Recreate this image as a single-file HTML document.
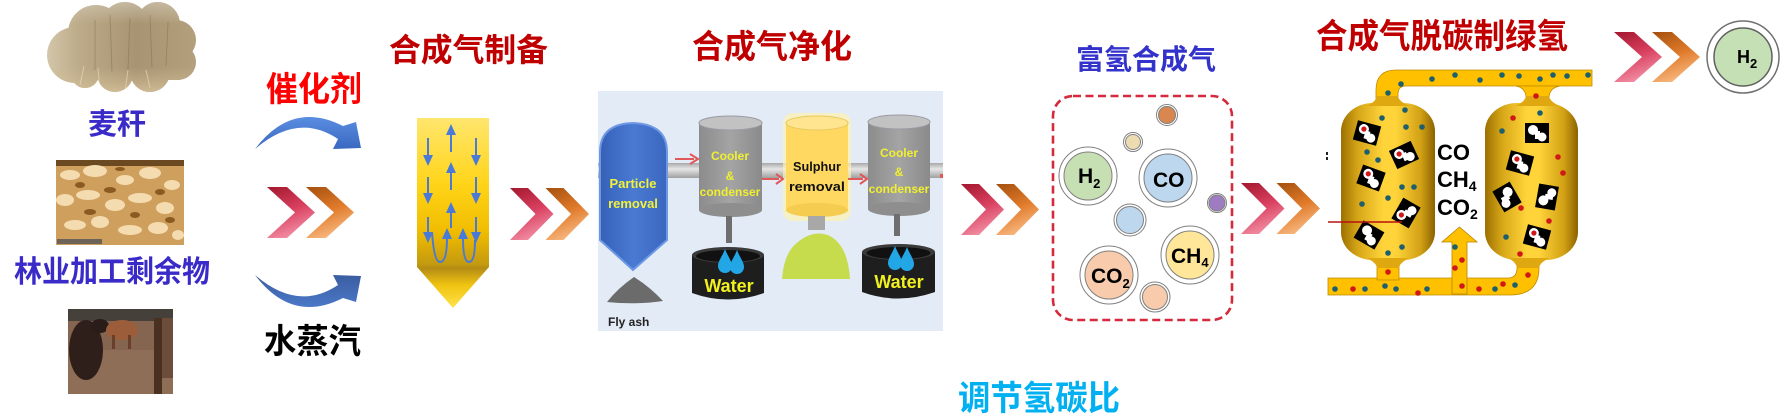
<!DOCTYPE html>
<html><head><meta charset="utf-8"><style>
html,body{margin:0;padding:0;background:#fff;}
svg{display:block;}
.cjk{font-family:"Liberation Sans","Noto Sans CJK SC","WenQuanYi Zen Hei",sans-serif;font-weight:bold;}
.lat{font-family:"Liberation Sans",sans-serif;font-weight:bold;}
</style></head><body>
<svg width="1788" height="420" viewBox="0 0 1788 420" xmlns="http://www.w3.org/2000/svg">
<defs>
 <linearGradient id="gRed" x1="0" y1="0" x2="0.35" y2="1">
  <stop offset="0" stop-color="#a3172d"/><stop offset="0.55" stop-color="#d94060"/><stop offset="1" stop-color="#f08aa0"/>
 </linearGradient>
 <linearGradient id="gOr" x1="0" y1="0" x2="0.35" y2="1">
  <stop offset="0" stop-color="#a4500e"/><stop offset="0.55" stop-color="#e07a2a"/><stop offset="1" stop-color="#f6b47a"/>
 </linearGradient>
 <linearGradient id="gBlue" x1="0" y1="0" x2="0" y2="1">
  <stop offset="0" stop-color="#5a8ee2"/><stop offset="1" stop-color="#3a68c0"/>
 </linearGradient>
 <linearGradient id="gBlue2" x1="0" y1="0" x2="0" y2="1">
  <stop offset="0" stop-color="#4a78c8"/><stop offset="1" stop-color="#3b5da0"/>
 </linearGradient>
 <linearGradient id="gReact" x1="0" y1="118" x2="0" y2="308" gradientUnits="userSpaceOnUse">
  <stop offset="0" stop-color="#ffe66e"/><stop offset="0.35" stop-color="#ffd418"/>
  <stop offset="0.6" stop-color="#f0bc00"/><stop offset="0.77" stop-color="#c49a10"/>
  <stop offset="0.79" stop-color="#b48c14"/><stop offset="0.88" stop-color="#f0c412"/>
  <stop offset="1" stop-color="#ffe24a"/>
 </linearGradient>
 <linearGradient id="gVes" x1="0" y1="0" x2="1" y2="0">
  <stop offset="0" stop-color="#9c7000"/><stop offset="0.18" stop-color="#d6a618"/>
  <stop offset="0.45" stop-color="#ffd43a"/><stop offset="0.58" stop-color="#ffd43a"/>
  <stop offset="0.85" stop-color="#d2a014"/><stop offset="1" stop-color="#8a6200"/>
 </linearGradient>
 <linearGradient id="gPipe" x1="0" y1="0" x2="0" y2="1">
  <stop offset="0" stop-color="#a8a8a8"/><stop offset="0.4" stop-color="#e6e6e6"/><stop offset="1" stop-color="#a0a0a0"/>
 </linearGradient>
 <linearGradient id="gPart" x1="0" y1="0" x2="1" y2="0">
  <stop offset="0" stop-color="#3560b8"/><stop offset="0.5" stop-color="#4a7ad2"/><stop offset="1" stop-color="#3a66c0"/>
 </linearGradient>
 <linearGradient id="gCyl" x1="0" y1="0" x2="1" y2="0">
  <stop offset="0" stop-color="#8c8c8c"/><stop offset="0.5" stop-color="#a4a4a4"/><stop offset="1" stop-color="#8a8a8a"/>
 </linearGradient>
 <linearGradient id="gStraw" x1="0" y1="0" x2="1" y2="0">
  <stop offset="0" stop-color="#d8ccb0"/><stop offset="0.25" stop-color="#bcaa88"/>
  <stop offset="0.6" stop-color="#a89472"/><stop offset="1" stop-color="#b4a07c"/>
 </linearGradient>
 <linearGradient id="gStrawV" x1="0" y1="0" x2="0" y2="1">
  <stop offset="0" stop-color="#d4ccb8" stop-opacity="0.7"/><stop offset="0.25" stop-color="#d4ccb8" stop-opacity="0"/>
  <stop offset="0.7" stop-color="#d0bc94" stop-opacity="0"/><stop offset="1" stop-color="#dcc8a0" stop-opacity="0.8"/>
 </linearGradient>
 <clipPath id="cloud">
  <circle cx="75" cy="55" r="28"/><circle cx="96" cy="33" r="28"/><circle cx="125" cy="26" r="24"/>
  <circle cx="158" cy="24" r="22"/><circle cx="176" cy="40" r="20"/><circle cx="178" cy="62" r="18"/>
  <circle cx="150" cy="72" r="20"/><circle cx="115" cy="74" r="18"/><circle cx="85" cy="74" r="14"/>
  <rect x="70" y="30" width="110" height="50"/>
 </clipPath>
 <g id="ad"><rect x="-12" y="-10" width="24" height="20" fill="#000"/><circle cx="-4" cy="-3" r="5" fill="#fff"/><rect x="-2" y="-2" width="5" height="8" fill="#fff"/><circle cx="5" cy="4" r="4.5" fill="#fff"/></g>
 <g id="adr"><use href="#ad"/><circle cx="-4" cy="-3" r="2.6" fill="#d01818"/></g>
 <path id="drop" d="M0,-14 C3,-6 7,-2 7,3 A7,7 0 0 1 -7,3 C-7,-2 -3,-6 0,-14 Z"/>
</defs>
<rect width="1788" height="420" fill="#fff"/>

<!-- Straw bale -->
<g clip-path="url(#cloud)">
 <rect x="40" y="0" width="160" height="95" fill="url(#gStraw)"/>
 <rect x="40" y="0" width="160" height="95" fill="url(#gStrawV)"/>
 <g stroke="#7f6e50" stroke-width="1" opacity="0.45">
  <line x1="95" y1="20" x2="95" y2="70"/><line x1="110" y1="15" x2="112" y2="72"/><line x1="130" y1="18" x2="128" y2="70"/>
  <line x1="150" y1="15" x2="152" y2="68"/><line x1="168" y1="22" x2="166" y2="66"/>
 </g>
 <g stroke="#ece0c4" stroke-width="1" opacity="0.6">
  <line x1="80" y1="85" x2="84" y2="66"/><line x1="100" y1="90" x2="98" y2="68"/><line x1="125" y1="92" x2="128" y2="70"/><line x1="150" y1="88" x2="146" y2="70"/>
 </g>
</g>

<!-- Wood shavings -->
<rect x="56" y="160" width="128" height="85" fill="#cf9f5e"/>
<rect x="56" y="160" width="128" height="6" fill="#6b4a22"/>
<g fill="#f4dcb0">
 <ellipse cx="70" cy="175" rx="10" ry="5"/><ellipse cx="95" cy="171" rx="12" ry="6"/><ellipse cx="125" cy="180" rx="9" ry="5"/>
 <ellipse cx="150" cy="173" rx="11" ry="6"/><ellipse cx="172" cy="185" rx="8" ry="5"/><ellipse cx="65" cy="200" rx="9" ry="6"/>
 <ellipse cx="88" cy="195" rx="12" ry="5"/><ellipse cx="115" cy="205" rx="10" ry="6"/><ellipse cx="140" cy="198" rx="12" ry="5"/>
 <ellipse cx="165" cy="208" rx="9" ry="6"/><ellipse cx="75" cy="225" rx="11" ry="5"/><ellipse cx="100" cy="222" rx="9" ry="6"/>
 <ellipse cx="130" cy="230" rx="12" ry="5"/><ellipse cx="158" cy="228" rx="10" ry="6"/><ellipse cx="178" cy="235" rx="6" ry="5"/>
</g>
<g fill="#8a5a20">
 <ellipse cx="80" cy="185" rx="5" ry="3"/><ellipse cx="110" cy="190" rx="6" ry="3"/><ellipse cx="135" cy="215" rx="5" ry="3"/>
 <ellipse cx="160" cy="192" rx="5" ry="3"/><ellipse cx="90" cy="212" rx="6" ry="3"/><ellipse cx="120" cy="169" rx="5" ry="2"/>
 <ellipse cx="170" cy="220" rx="5" ry="3"/>
</g>
<rect x="57" y="239" width="45" height="5" fill="#6c6258"/>

<!-- Cattle -->
<rect x="68" y="309" width="105" height="85" fill="#85654f"/>
<rect x="68" y="309" width="105" height="12" fill="#46403a"/>
<rect x="68" y="350" width="105" height="44" fill="#8e6e56"/>
<ellipse cx="86" cy="350" rx="17" ry="30" fill="#2e1f1b"/>
<ellipse cx="100" cy="326" rx="9" ry="7" fill="#2a1c18"/>
<ellipse cx="122" cy="330" rx="16" ry="10" fill="#9c5e3a"/>
<rect x="112" y="335" width="3" height="14" fill="#6a3f28"/><rect x="128" y="335" width="3" height="14" fill="#6a3f28"/>
<rect x="154" y="318" width="8" height="76" fill="#4a3020"/>
<rect x="162" y="318" width="11" height="60" fill="#6c4c3a"/>

<!-- Labels -->
<g class="cjk">
 <text x="88" y="134" font-size="29" fill="#3a2bc9" textLength="58" lengthAdjust="spacingAndGlyphs">麦秆</text>
 <text x="14" y="282" font-size="30" fill="#3a2bc9" textLength="196" lengthAdjust="spacingAndGlyphs">林业加工剩余物</text>
 <text x="266" y="101" font-size="34" fill="#ff0000" textLength="96" lengthAdjust="spacingAndGlyphs">催化剂</text>
 <text x="264" y="353" font-size="34" fill="#000" textLength="97" lengthAdjust="spacingAndGlyphs">水蒸汽</text>
 <text x="389" y="61" font-size="32" fill="#c00000" textLength="159" lengthAdjust="spacingAndGlyphs">合成气制备</text>
 <text x="692" y="58" font-size="33" fill="#c00000" textLength="160" lengthAdjust="spacingAndGlyphs">合成气净化</text>
 <text x="1076" y="69" font-size="28" fill="#3333cc" textLength="140" lengthAdjust="spacingAndGlyphs">富氢合成气</text>
 <text x="1316" y="48" font-size="34" fill="#c00000" textLength="252" lengthAdjust="spacingAndGlyphs">合成气脱碳制绿氢</text>
 <text x="958" y="410" font-size="34" fill="#00b0f0" textLength="162" lengthAdjust="spacingAndGlyphs">调节氢碳比</text>
</g>

<!-- Blue curved arrows -->
<path d="M255,149 Q292,100 343,126 L356,122 L361,148 L333,149 L338,139 Q298,112 255,149 Z" fill="url(#gBlue)"/>
<path transform="matrix(1,0,0,-1,0,424)" d="M255,149 Q292,100 343,126 L356,122 L361,148 L333,149 L338,139 Q298,112 255,149 Z" fill="url(#gBlue2)"/>

<!-- Chevrons -->
<g>
 <polygon points="267,187 287,187 315,212.5 287,238 267,238 295,212.5" fill="url(#gRed)"/>
 <polygon points="306,187 326,187 354,212.5 326,238 306,238 334,212.5" fill="url(#gOr)"/>
 <polygon points="510,188 528,188 553.5,214 528,240 510,240 535.5,214" fill="url(#gRed)"/>
 <polygon points="545.5,188 563.5,188 589,214 563.5,240 545.5,240 571,214" fill="url(#gOr)"/>
 <polygon points="961,184 979,184 1004,209.5 979,235 961,235 986,209.5" fill="url(#gRed)"/>
 <polygon points="996,184 1014,184 1039,209.5 1014,235 996,235 1021,209.5" fill="url(#gOr)"/>
 <polygon points="1241,183 1259,183 1284.5,208.5 1259,234 1241,234 1266.5,208.5" fill="url(#gRed)"/>
 <polygon points="1276.5,183 1294.5,183 1320,208.5 1294.5,234 1276.5,234 1302,208.5" fill="url(#gOr)"/>
 <polygon points="1614,32 1634,32 1662,57 1634,82 1614,82 1642,57" fill="url(#gRed)"/>
 <polygon points="1652,32 1672,32 1700,57 1672,82 1652,82 1680,57" fill="url(#gOr)"/>
</g>

<!-- Reactor -->
<path d="M417,118 L489,118 L489,267 L453,308 L417,267 Z" fill="url(#gReact)"/>
<g stroke="#4a7ad8" stroke-width="2" fill="none">
 <line x1="428" y1="138" x2="428" y2="156"/><line x1="428" y1="177" x2="428" y2="194"/><line x1="428" y1="217" x2="428" y2="233"/>
 <line x1="476" y1="138" x2="476" y2="156"/><line x1="476" y1="177" x2="476" y2="194"/><line x1="476" y1="217" x2="476" y2="233"/>
 <line x1="451" y1="134" x2="451" y2="152"/><line x1="451" y1="172" x2="451" y2="190"/><line x1="451" y1="212" x2="451" y2="228"/>
 <path d="M432,232 Q434,262 440,262 Q447,262 447,238"/>
 <path d="M463,238 Q463,262 469,262 Q475,262 475,240"/>
</g>
<g fill="#4a7ad8">
 <polygon points="423,155 433,155 428,166"/><polygon points="423,193 433,193 428,204"/><polygon points="423,232 433,232 428,243"/>
 <polygon points="471,155 481,155 476,166"/><polygon points="471,193 481,193 476,204"/><polygon points="471,232 481,232 476,243"/>
 <polygon points="446,135 456,135 451,124"/><polygon points="446,173 456,173 451,162"/><polygon points="446,213 456,213 451,202"/>
 <polygon points="442,239 452,239 447,228"/><polygon points="458,239 468,239 463,228"/>
</g>

<!-- Purification panel -->
<rect x="598" y="91" width="345" height="240" fill="#e2ebf6"/>
<rect x="598" y="163" width="345" height="15" fill="url(#gPipe)"/>
<path d="M600,152 Q600,124 633,123 Q667,124 667,152 L667,240 L633,270 L600,240 Z" fill="url(#gPart)" stroke="#6d98e4" stroke-width="2"/>
<g class="lat" fill="#f2f23a" font-size="13" text-anchor="middle">
 <text x="633" y="188">Particle</text><text x="633" y="208">removal</text>
</g>
<path d="M607,302 Q618,288 634,277 Q650,287 663,301 Q636,305 607,302 Z" fill="#6b6b6b"/>
<text x="608" y="326" class="lat" font-size="12" fill="#222">Fly ash</text>
<rect x="699" y="123" width="63" height="87" fill="url(#gCyl)"/>
<ellipse cx="730.5" cy="210" rx="31.5" ry="7" fill="#8e8e8e"/>
<ellipse cx="730.5" cy="123" rx="31.5" ry="7" fill="#c2c2c2" stroke="#9a9aa4" stroke-width="1"/>
<rect x="726" y="216" width="6" height="27" fill="#6e6e6e"/>
<g class="lat" fill="#f0f030" font-size="12" text-anchor="middle">
 <text x="730" y="160">Cooler</text><text x="730" y="180">&amp;</text><text x="730" y="196">condenser</text>
</g>
<rect x="783" y="113" width="68" height="108" rx="10" fill="#fff2b0" opacity="0.7"/>
<rect x="786" y="123" width="62" height="87" fill="#ffd862"/>
<ellipse cx="817" cy="210" rx="31" ry="7" fill="#f6cc50"/>
<ellipse cx="817" cy="123" rx="31" ry="7" fill="#ffe590" stroke="#e8c860" stroke-width="1"/>
<rect x="808" y="216" width="17" height="14" fill="#a8a8a8"/>
<g class="lat" fill="#111" font-size="13" text-anchor="middle">
 <text x="817" y="171" textLength="48" lengthAdjust="spacingAndGlyphs">Sulphur</text><text x="817" y="191" textLength="56" lengthAdjust="spacingAndGlyphs">removal</text>
</g>
<path d="M782,279 Q784,252 798,242 Q814,229 830,236 Q848,246 850,279 Z" fill="#c6dc4c"/>
<rect x="868" y="122" width="62" height="87" fill="url(#gCyl)"/>
<ellipse cx="899" cy="209" rx="31" ry="7" fill="#8e8e8e"/>
<ellipse cx="899" cy="122" rx="31" ry="7" fill="#c2c2c2" stroke="#9a9aa4" stroke-width="1"/>
<rect x="894" y="214" width="6" height="22" fill="#6e6e6e"/>
<g class="lat" fill="#f0f030" font-size="12" text-anchor="middle">
 <text x="899" y="157">Cooler</text><text x="899" y="176">&amp;</text><text x="899" y="193">condenser</text>
</g>
<path d="M692,255 L692,293 Q728,306 764,293 L764,255 Z" fill="#1e1e1e"/>
<ellipse cx="728" cy="255" rx="36" ry="8" fill="#3a3a3a"/>
<ellipse cx="728" cy="256" rx="32" ry="6" fill="#111"/>
<g fill="#22a6e6"><use href="#drop" x="725" y="263"/><use href="#drop" x="737" y="264"/></g>
<text x="729" y="292" class="lat" font-size="18" fill="#f0f020" text-anchor="middle">Water</text>
<path d="M862,252 L862,292 Q898,305 935,292 L935,252 Z" fill="#1e1e1e"/>
<ellipse cx="898.5" cy="252" rx="36.5" ry="8" fill="#3a3a3a"/>
<ellipse cx="898.5" cy="253" rx="32" ry="6" fill="#111"/>
<g fill="#22a6e6"><use href="#drop" x="895" y="260"/><use href="#drop" x="907" y="261"/></g>
<text x="899" y="288" class="lat" font-size="18" fill="#f0f020" text-anchor="middle">Water</text>
<g stroke="#e05858" stroke-width="2" fill="none">
 <line x1="675" y1="159" x2="694" y2="159"/><line x1="762" y1="179" x2="779" y2="179"/><line x1="848" y1="179" x2="863" y2="179"/>
 <polyline points="690,154 698,159 690,164"/><polyline points="776,174 783,179 776,184"/><polyline points="860,174 867,179 860,184"/>
</g>
<rect x="940" y="174" width="3" height="4" fill="#e05858"/>

<!-- Dashed box with gases -->
<rect x="1053" y="96" width="179" height="224" rx="20" fill="none" stroke="#d42a3c" stroke-width="2.6" stroke-dasharray="8 4.5"/>
<g stroke="#808080" stroke-width="1">
 <circle cx="1167" cy="115" r="10.5" fill="#fff"/><circle cx="1167" cy="115" r="8.5" fill="#d9874e"/>
 <circle cx="1133" cy="142" r="9.5" fill="#fff"/><circle cx="1133" cy="142" r="7.5" fill="#ecdcb0"/>
 <circle cx="1088" cy="176" r="29" fill="#fff"/><circle cx="1088" cy="176" r="24" fill="#c6e0b4"/>
 <circle cx="1168" cy="178" r="29" fill="#fff"/><circle cx="1168" cy="178" r="24" fill="#bdd7ee"/>
 <circle cx="1217" cy="203" r="9.5" fill="#fff"/><circle cx="1217" cy="203" r="8" fill="#9e7cc1"/>
 <circle cx="1130" cy="220" r="16" fill="#fff"/><circle cx="1130" cy="220" r="13.5" fill="#bdd7ee"/>
 <circle cx="1190" cy="255" r="29" fill="#fff"/><circle cx="1190" cy="255" r="24" fill="#ffe699"/>
 <circle cx="1109" cy="275" r="29" fill="#fff"/><circle cx="1109" cy="275" r="24" fill="#f8cbad"/>
 <circle cx="1155" cy="297" r="15" fill="#fff"/><circle cx="1155" cy="297" r="12.5" fill="#f8cbad"/>
</g>
<g class="lat" fill="#000">
 <text x="1078" y="183" font-size="21">H<tspan font-size="13" dy="5">2</tspan></text>
 <text x="1153" y="187" font-size="21">CO</text>
 <text x="1171" y="263" font-size="21">CH<tspan font-size="13" dy="4">4</tspan></text>
 <text x="1091" y="283" font-size="21">CO<tspan font-size="13" dy="5">2</tspan></text>
</g>

<!-- PSA -->
<g fill="#ffc000" stroke="#c08a00" stroke-width="0.8">
 <path d="M1376,110 L1376,90 Q1376,70 1396,70 L1592,70 L1592,86 L1406,86 Q1398,86 1398,94 L1398,110 Z"/>
 <path d="M1516,86 Q1526,88 1526,98 L1526,110 L1549,110 L1549,98 Q1549,88 1560,86 Z"/>
 <path d="M1328,278 L1508,278 Q1517,278 1517,268 L1517,255 L1539,255 L1539,268 Q1539,295 1510,295 L1328,295 Z"/>
 <path d="M1377,255 L1377,280 L1399,280 L1399,255 Z"/>
</g>
<rect x="1341" y="103" width="94" height="157" rx="32" ry="28" fill="url(#gVes)"/>
<rect x="1485" y="103" width="93" height="157" rx="32" ry="28" fill="url(#gVes)"/>
<path d="M1366,106 Q1376,102 1377,96 L1398,96 Q1399,102 1410,106 Z" fill="#e0a810"/>
<path d="M1515,106 Q1525,102 1526,96 L1549,96 Q1550,102 1560,106 Z" fill="#e0a810"/>
<path d="M1366,258 Q1376,262 1377,268 L1399,268 Q1400,262 1410,258 Z" fill="#e0a810"/>
<path d="M1508,258 Q1516,262 1517,268 L1539,268 Q1540,262 1550,258 Z" fill="#e0a810"/>
<path d="M1452,294 L1452,242 L1442,242 L1459.5,227 L1477,242 L1467,242 L1467,294 Z" fill="#ffc000" stroke="#b88400" stroke-width="0.8"/>

<use href="#adr" transform="translate(1367,133) rotate(15)"/>
<use href="#adr" transform="translate(1404,155) rotate(-25)"/>
<use href="#adr" transform="translate(1371,178) rotate(20)"/>
<use href="#adr" transform="translate(1406,213) rotate(-60)"/>
<use href="#ad" transform="translate(1369,235) rotate(30)"/>
<use href="#ad" transform="translate(1537,133) rotate(0)"/>
<use href="#adr" transform="translate(1520,163) rotate(15)"/>
<use href="#ad" transform="translate(1507,197) rotate(60)"/>
<use href="#ad" transform="translate(1547,197) rotate(-80)"/>
<use href="#adr" transform="translate(1537,237) rotate(15)"/>

<g fill="#1d5f6c">
 <circle cx="1388" cy="93" r="2.8"/><circle cx="1401" cy="84" r="2.8"/><circle cx="1432" cy="79" r="2.8"/><circle cx="1455" cy="75" r="2.8"/>
 <circle cx="1480" cy="80" r="2.8"/><circle cx="1502" cy="75" r="2.8"/><circle cx="1519" cy="76" r="2.8"/><circle cx="1540" cy="79" r="2.8"/>
 <circle cx="1553" cy="75" r="2.8"/><circle cx="1567" cy="76" r="2.8"/><circle cx="1588" cy="75" r="2.8"/>
 <circle cx="1405" cy="110" r="2.8"/><circle cx="1382" cy="118" r="2.8"/><circle cx="1406" cy="127" r="2.8"/><circle cx="1422" cy="127" r="2.8"/>
 <circle cx="1367" cy="152" r="2.8"/><circle cx="1378" cy="160" r="2.8"/><circle cx="1402" cy="187" r="2.8"/><circle cx="1414" cy="187" r="2.8"/>
 <circle cx="1388" cy="198" r="2.8"/><circle cx="1362" cy="204" r="2.8"/><circle cx="1388" cy="253" r="2.8"/><circle cx="1402" cy="247" r="2.8"/>
 <circle cx="1540" cy="113" r="2.8"/><circle cx="1502" cy="131" r="2.8"/><circle cx="1506" cy="237" r="2.8"/><circle cx="1515" cy="285" r="2.8"/>
 <circle cx="1335" cy="289" r="2.8"/><circle cx="1365" cy="289" r="2.8"/><circle cx="1385" cy="286" r="2.8"/><circle cx="1396" cy="289" r="2.8"/>
 <circle cx="1427" cy="289" r="2.8"/><circle cx="1495" cy="289" r="2.8"/><circle cx="1455" cy="247" r="2.8"/>
</g>
<g fill="#d01818">
 <circle cx="1536" cy="96" r="2.8"/><circle cx="1513" cy="118" r="2.8"/><circle cx="1558" cy="157" r="2.8"/><circle cx="1563" cy="173" r="2.8"/>
 <circle cx="1521" cy="208" r="2.8"/><circle cx="1549" cy="221" r="2.8"/><circle cx="1520" cy="254" r="2.8"/><circle cx="1528" cy="275" r="2.8"/>
 <circle cx="1353" cy="289" r="2.8"/><circle cx="1418" cy="293" r="2.8"/><circle cx="1462" cy="286" r="2.8"/><circle cx="1479" cy="289" r="2.8"/>
 <circle cx="1503" cy="284" r="2.8"/><circle cx="1388" cy="272" r="2.8"/><circle cx="1462" cy="260" r="2.8"/><circle cx="1455" cy="268" r="2.8"/>
</g>
<line x1="1328" y1="222" x2="1402" y2="222" stroke="#b81010" stroke-width="1.5"/>
<rect x="1326" y="152" width="2" height="3" fill="#222"/><rect x="1326" y="157" width="2" height="3" fill="#222"/>
<g class="lat" fill="#000" font-size="22">
 <text x="1437" y="160">CO</text>
 <text x="1437" y="187">CH<tspan font-size="14" dy="4">4</tspan></text>
 <text x="1437" y="215">CO<tspan font-size="14" dy="4">2</tspan></text>
</g>

<!-- Final H2 -->
<circle cx="1743" cy="57" r="36" fill="#fff" stroke="#707070" stroke-width="1.5"/>
<circle cx="1743" cy="57" r="29" fill="#c5e0b4" stroke="#606060" stroke-width="1.5"/>
<text x="1737" y="63" class="lat" font-size="18" fill="#000">H<tspan font-size="13" dy="5">2</tspan></text>
</svg>
</body></html>
